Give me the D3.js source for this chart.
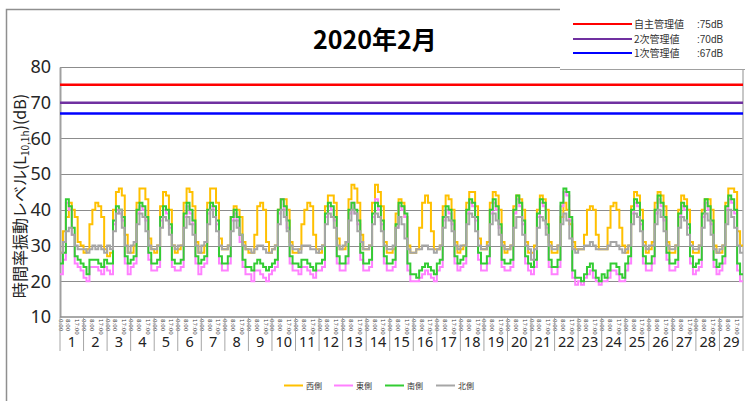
<!DOCTYPE html>
<html>
<head>
<meta charset="utf-8">
<script src="https://cdn.jsdelivr.net/npm/d3@7"></script>
<style>
  body { margin: 0; background: #fff; }
  svg { display: block; }
</style>
</head>
<body>
<svg id="chart" width="749" height="401"></svg>
<script>
// ---- data ----------------------------------------------------------------
const titleText = "2020年2月";
const dayLabels = ["1","2","3","4","5","6","7","8","9","10","11","12","13","14","15",
  "16","17","18","19","20","21","22","23","24","25","26","27","28","29"];
const timeLabels = ["0:00", "8:00", "17:00"];
const timeLabelHours = [0, 8, 17];
const yTicks = [10, 20, 30, 40, 50, 60, 70, 80];

// management limits
const limitNames = ["自主管理値", "2次管理値", "1次管理値"];
const limitTexts = [":75dB", ":70dB", ":67dB"];
const limitValues = [75, 70, 67];

const seriesNames = ["西側", "東側", "南側", "北側"];
const hoursPerStep = 3; // one value per 3-hour block, 8 per day

// 西側 (L10,1h, dB), one row per day
const west = [
  28,34,38,42,40,38,31,30,
  28,29,36,40,42,41,38,29,
  27,28,40,45,46,44,33,28,
  28,30,42,46,46,43,32,29,
  28,30,41,45,44,40,30,28,
  29,30,42,46,45,41,31,28,
  28,30,42,46,46,42,32,29,
  29,30,38,41,40,38,31,29,
  28,28,33,41,42,40,31,28,
  29,30,40,43,43,40,31,28,
  28,29,36,40,42,41,33,29,
  28,30,41,44,44,42,32,29,
  29,31,43,47,46,42,33,29,
  29,30,42,47,45,41,31,28,
  28,29,39,43,42,38,30,28,
  28,29,35,42,44,42,34,29,
  29,30,41,44,43,40,31,28,
  29,30,42,45,45,41,32,29,
  29,31,42,45,44,40,31,28,
  29,30,41,44,43,40,31,28,
  28,30,40,44,43,40,31,28,
  28,30,38,42,40,36,31,29,
  29,29,33,40,41,40,33,29,
  29,29,35,41,42,40,35,30,
  28,30,41,45,44,40,31,28,
  29,31,42,45,44,41,31,28,
  28,30,40,44,43,40,31,28,
  28,30,40,43,43,40,30,28,
  28,30,42,46,46,45,34,30
];

// 東側
const east = [
  22,26,42,40,33,25,24,23,
  21,20,24,24,24,23,22,24,
  23,22,36,40,39,37,25,22,
  24,25,39,41,40,37,26,23,
  23,24,37,40,39,35,24,23,
  23,24,38,41,39,36,25,22,
  24,25,39,41,40,36,25,23,
  23,25,37,39,37,31,24,22,
  22,20,23,23,22,21,20,22,
  23,24,39,43,40,35,25,23,
  23,22,24,24,23,22,21,23,
  23,24,38,41,40,37,25,23,
  23,25,39,42,39,36,26,23,
  23,24,38,43,40,36,25,23,
  23,24,35,41,40,38,23,20,
  20,20,21,22,23,22,21,20,
  23,24,37,40,39,36,25,23,
  24,25,39,42,41,37,26,23,
  23,25,39,42,40,35,24,23,
  23,24,39,43,41,36,25,23,
  22,24,38,42,41,35,24,22,
  22,24,41,45,44,37,21,19,
  20,19,21,22,23,21,20,19,
  20,20,21,23,23,22,20,20,
  23,25,39,42,41,36,25,23,
  23,25,39,43,41,37,26,23,
  23,24,38,41,40,35,25,22,
  23,24,38,42,40,36,24,22,
  23,25,40,43,42,39,23,20
];

// 南側
const south = [
  25,28,43,41,35,27,26,25,
  24,22,26,26,26,25,24,26,
  25,25,37,41,40,38,27,25,
  26,27,40,42,41,38,28,25,
  25,26,38,41,40,36,26,25,
  25,26,39,42,40,37,27,25,
  26,27,40,42,41,37,27,25,
  25,27,38,40,38,33,26,24,
  24,23,25,26,25,24,23,24,
  25,26,40,43,41,37,27,25,
  25,24,26,26,25,24,23,25,
  25,26,39,42,41,38,27,25,
  25,27,40,42,40,37,28,25,
  25,26,39,42,41,37,27,25,
  25,26,36,42,41,39,25,22,
  22,21,23,24,25,24,23,22,
  25,26,38,41,40,37,27,25,
  26,27,40,43,42,38,28,25,
  25,27,40,43,41,36,26,25,
  25,26,40,44,42,37,27,25,
  24,26,39,43,42,36,26,24,
  24,26,42,46,45,38,23,21,
  21,20,22,24,25,23,21,20,
  22,21,23,25,25,24,22,21,
  25,27,40,43,42,37,27,25,
  25,27,40,44,42,38,28,25,
  25,26,39,42,41,36,27,24,
  25,26,39,43,41,37,26,24,
  25,27,41,44,43,40,25,22
];

// 北側
const north = [
  28,31,34,35,33,30,29,29,
  29,28,29,30,29,30,29,28,
  30,29,34,39,40,35,30,28,
  30,31,36,39,38,34,30,29,
  29,30,35,38,37,33,30,29,
  30,30,35,38,36,33,30,28,
  30,31,36,40,38,34,30,29,
  29,30,34,37,35,33,30,29,
  29,28,29,30,30,29,28,28,
  29,30,36,40,38,34,30,29,
  29,28,30,30,30,29,29,28,
  29,30,36,39,38,35,30,29,
  30,31,37,40,39,34,31,29,
  29,30,36,39,38,34,30,29,
  29,30,35,38,36,32,29,28,
  28,29,29,30,30,29,29,28,
  29,30,35,38,37,34,30,29,
  30,30,36,39,38,34,30,29,
  29,30,36,39,37,33,30,29,
  29,30,35,38,38,33,30,29,
  26,29,35,38,37,33,30,29,
  29,30,36,39,37,32,29,28,
  29,29,30,30,31,30,29,29,
  29,29,30,31,31,30,29,28,
  29,30,36,39,38,34,30,29,
  30,30,36,40,38,34,30,29,
  29,30,35,38,37,33,30,29,
  29,30,35,39,37,33,29,28,
  29,30,36,40,38,35,30,28
];

// ---- styles ----------------------------------------------------------------
const seriesColors = ["#FFC000", "#FF80FF", "#33CC33", "#A6A6A6"];
const limitColors = ["#FF0000", "#7030A0", "#0000FF"];
const jp = "'Noto Sans CJK JP', 'Noto Sans', sans-serif";

// ---- drawing ---------------------------------------------------------------
const svg = d3.select("#chart");
const plot = { left: 60, right: 743, top: 67, bottom: 317 };
const totalHours = dayLabels.length * 24;

const x = d3.scaleLinear().domain([0, totalHours]).range([plot.left, plot.right]);
const y = d3.scaleLinear().domain([10, 80]).range([plot.bottom, plot.top]);

// outer frame (top and left edges)
svg.append("path")
  .attr("d", "M6.5,401 V9.5 H562")
  .attr("fill", "none").attr("stroke", "#8f8f8f").attr("stroke-width", 1.5);

// horizontal gridlines
svg.append("g").selectAll("line")
  .data(yTicks.filter(v => v > 10))
  .join("line")
  .attr("x1", plot.left).attr("x2", plot.right)
  .attr("y1", d => Math.round(y(d)) + 0.5).attr("y2", d => Math.round(y(d)) + 0.5)
  .attr("stroke", "#8c8c8c").attr("stroke-width", 1.2);

// y axis
const yAxis = d3.axisLeft(y).tickValues(yTicks).tickSize(0).tickPadding(9);
const gy = svg.append("g").attr("transform", `translate(${plot.left},0)`).call(yAxis);
gy.select(".domain").attr("stroke", "#a0a0a0").attr("stroke-width", 2);
gy.selectAll("text")
  .attr("font-family", "'Noto Sans', sans-serif")
  .attr("font-size", 18).attr("fill", "#262626");

// right edge of plot
svg.append("line")
  .attr("x1", plot.right).attr("x2", plot.right)
  .attr("y1", plot.top).attr("y2", plot.bottom)
  .attr("stroke", "#b4b4b4").attr("stroke-width", 1.5);

// x axis baseline
svg.append("line")
  .attr("x1", plot.left).attr("x2", plot.right)
  .attr("y1", plot.bottom).attr("y2", plot.bottom)
  .attr("stroke", "#8c8c8c").attr("stroke-width", 1.5);

// hour labels (rotated) and day separators
const hourTicks = [];
dayLabels.forEach((d, i) => timeLabelHours.forEach((h, j) =>
  hourTicks.push({ hour: i * 24 + h, label: timeLabels[j] })));

svg.append("g").selectAll("text")
  .data(hourTicks)
  .join("text")
  .attr("transform", d => `translate(${x(d.hour) + 0.5},${plot.bottom + 2}) rotate(90)`)
  .attr("dominant-baseline", "central")
  .attr("font-family", "'DejaVu Sans', sans-serif")
  .attr("font-size", 5.5)
  .attr("fill", "#444")
  .text(d => d.label);

svg.append("g").selectAll("line")
  .data(d3.range(dayLabels.length + 1))
  .join("line")
  .attr("x1", d => x(d * 24)).attr("x2", d => x(d * 24))
  .attr("y1", plot.bottom).attr("y2", plot.bottom + 34)
  .attr("stroke", "#a6a6a6").attr("stroke-width", 1);

svg.append("g").selectAll("text")
  .data(dayLabels)
  .join("text")
  .attr("x", (d, i) => x(i * 24 + 12))
  .attr("y", 347)
  .attr("text-anchor", "middle")
  .attr("font-family", "'Noto Sans', sans-serif")
  .attr("font-size", 14.5)
  .attr("fill", "#222")
  .text(d => d);

// management limit lines
svg.append("g").selectAll("line")
  .data(limitValues)
  .join("line")
  .attr("x1", plot.left).attr("x2", plot.right)
  .attr("y1", d => y(d)).attr("y2", d => y(d))
  .attr("stroke", (d, i) => limitColors[i]).attr("stroke-width", 2.5);

// measurement series as step lines
const seriesData = [west, east, south, north].map(vals => {
  const pts = vals.map((v, i) => ({ h: i * hoursPerStep, v }));
  pts.push({ h: totalHours, v: vals[vals.length - 1] });
  return pts;
});
const line = d3.line().x(d => x(d.h)).y(d => y(d.v)).curve(d3.curveStepAfter);

svg.append("g").selectAll("path")
  .data(seriesData)
  .join("path")
  .attr("d", line)
  .attr("fill", "none")
  .attr("stroke", (d, i) => seriesColors[i])
  .attr("stroke-width", 2)
  .attr("stroke-linejoin", "miter");

// title
svg.append("text")
  .attr("x", 375).attr("y", 49)
  .attr("text-anchor", "middle")
  .attr("font-family", jp)
  .attr("font-weight", "bold")
  .attr("font-size", 25)
  .attr("fill", "#000")
  .text(titleText);

// y axis title with subscript
const yt = svg.append("text")
  .attr("transform", "translate(26,196) rotate(-90)")
  .attr("text-anchor", "middle")
  .attr("font-family", jp)
  .attr("font-size", 16)
  .attr("fill", "#222");
yt.append("tspan").text("時間率振動レベル(L");
yt.append("tspan").attr("font-size", 10).attr("dy", 3).text("10,1h");
yt.append("tspan").attr("dy", -3).text(")(dB)");

// limit legend (top right)
svg.append("rect")
  .attr("x", 560).attr("y", 0).attr("width", 189).attr("height", 69)
  .attr("fill", "#fff");
svg.append("line")
  .attr("x1", 560).attr("x2", 745).attr("y1", 69.5).attr("y2", 69.5)
  .attr("stroke", "#a0a0a0").attr("stroke-width", 1);
const lg = svg.append("g").selectAll("g")
  .data(limitNames)
  .join("g")
  .attr("transform", (d, i) => `translate(0,${[24, 39, 53][i]})`);
lg.append("line")
  .attr("x1", 573).attr("x2", 632)
  .attr("stroke", (d, i) => limitColors[i]).attr("stroke-width", 2);
lg.append("text")
  .attr("x", 634).attr("y", 3.5)
  .attr("font-family", jp).attr("font-size", 10).attr("fill", "#333")
  .text(d => d);
lg.append("text")
  .attr("x", 697).attr("y", 3.5)
  .attr("font-family", "'Liberation Sans', sans-serif").attr("font-size", 10).attr("fill", "#333")
  .text((d, i) => limitTexts[i]);

// series legend (bottom)
const legendX = [284, 334, 385, 436];
const sl = svg.append("g").selectAll("g")
  .data(seriesNames)
  .join("g")
  .attr("transform", (d, i) => `translate(${legendX[i]},385.5)`);
sl.append("line")
  .attr("x1", 0).attr("x2", 19)
  .attr("stroke", (d, i) => seriesColors[i]).attr("stroke-width", 2);
sl.append("text")
  .attr("x", 22).attr("y", 3)
  .attr("font-family", jp).attr("font-size", 8).attr("fill", "#333")
  .text(d => d);
</script>
</body>
</html>
